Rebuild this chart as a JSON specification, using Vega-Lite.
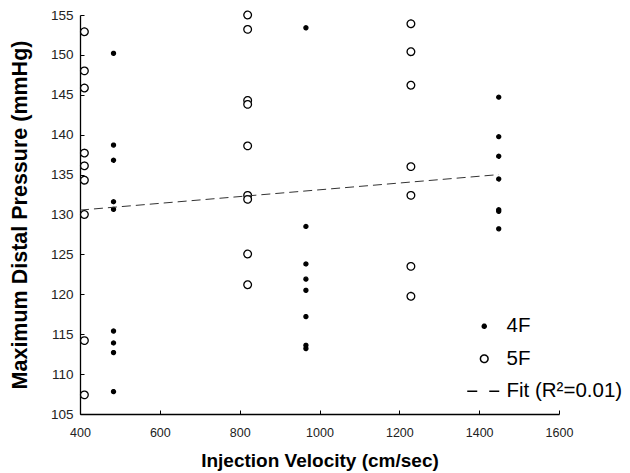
{
  "$schema": "https://vega.github.io/schema/vega-lite/v6.json",
  "width": 479,
  "height": 399,
  "autosize": {"type": "none"},
  "padding": {"left": 80, "top": 15, "right": 71, "bottom": 59},
  "background": "white",
  "config": {
    "view": {"stroke": null},
    "font": "Liberation Sans",
    "axis": {
      "grid": false,
      "domainColor": "black",
      "domainWidth": 1.3,
      "tickColor": "black",
      "tickWidth": 1,
      "tickSize": -4,
      "labelFlush": false,
      "labelOverlap": false,
      "labelBound": false,
      "labelColor": "#222222",
      "labelFont": "Liberation Sans",
      "titleFont": "Liberation Sans",
      "titleFontWeight": "bold",
      "titleColor": "black"
    },
    "legend": {
      "title": null,
      "orient": "none",
      "legendX": 394,
      "legendY": 301,
      "labelFontSize": 20.5,
      "labelColor": "black",
      "labelFont": "Liberation Sans",
      "labelOffset": 12,
      "rowPadding": 11.5,
      "padding": 0
    }
  },
  "layer": [
    {
      "data": {
        "values": [
          {"velocity": 411, "pressure": 152.9, "series": "5F"},
          {"velocity": 411, "pressure": 148.0, "series": "5F"},
          {"velocity": 411, "pressure": 145.85, "series": "5F"},
          {"velocity": 411, "pressure": 137.7, "series": "5F"},
          {"velocity": 411, "pressure": 136.1, "series": "5F"},
          {"velocity": 411, "pressure": 134.3, "series": "5F"},
          {"velocity": 411, "pressure": 130.0, "series": "5F"},
          {"velocity": 411, "pressure": 114.2, "series": "5F"},
          {"velocity": 411, "pressure": 107.4, "series": "5F"},
          {"velocity": 484, "pressure": 150.2, "series": "4F"},
          {"velocity": 484, "pressure": 138.7, "series": "4F"},
          {"velocity": 484, "pressure": 136.8, "series": "4F"},
          {"velocity": 484, "pressure": 131.6, "series": "4F"},
          {"velocity": 484, "pressure": 130.65, "series": "4F"},
          {"velocity": 484, "pressure": 115.4, "series": "4F"},
          {"velocity": 484, "pressure": 113.9, "series": "4F"},
          {"velocity": 484, "pressure": 112.7, "series": "4F"},
          {"velocity": 484, "pressure": 107.8, "series": "4F"},
          {"velocity": 820, "pressure": 155.0, "series": "5F"},
          {"velocity": 820, "pressure": 153.2, "series": "5F"},
          {"velocity": 820, "pressure": 144.3, "series": "5F"},
          {"velocity": 820, "pressure": 143.8, "series": "5F"},
          {"velocity": 820, "pressure": 138.6, "series": "5F"},
          {"velocity": 820, "pressure": 132.4, "series": "5F"},
          {"velocity": 820, "pressure": 131.9, "series": "5F"},
          {"velocity": 820, "pressure": 125.05, "series": "5F"},
          {"velocity": 820, "pressure": 121.2, "series": "5F"},
          {"velocity": 966, "pressure": 153.4, "series": "4F"},
          {"velocity": 966, "pressure": 128.5, "series": "4F"},
          {"velocity": 966, "pressure": 123.8, "series": "4F"},
          {"velocity": 966, "pressure": 121.9, "series": "4F"},
          {"velocity": 966, "pressure": 120.5, "series": "4F"},
          {"velocity": 966, "pressure": 117.2, "series": "4F"},
          {"velocity": 966, "pressure": 113.6, "series": "4F"},
          {"velocity": 966, "pressure": 113.2, "series": "4F"},
          {"velocity": 1229, "pressure": 153.9, "series": "5F"},
          {"velocity": 1229, "pressure": 150.4, "series": "5F"},
          {"velocity": 1229, "pressure": 146.2, "series": "5F"},
          {"velocity": 1229, "pressure": 136.0, "series": "5F"},
          {"velocity": 1229, "pressure": 132.4, "series": "5F"},
          {"velocity": 1229, "pressure": 123.5, "series": "5F"},
          {"velocity": 1229, "pressure": 119.75, "series": "5F"},
          {"velocity": 1449, "pressure": 144.7, "series": "4F"},
          {"velocity": 1449, "pressure": 139.75, "series": "4F"},
          {"velocity": 1449, "pressure": 137.3, "series": "4F"},
          {"velocity": 1449, "pressure": 134.45, "series": "4F"},
          {"velocity": 1449, "pressure": 130.6, "series": "4F"},
          {"velocity": 1449, "pressure": 130.4, "series": "4F"},
          {"velocity": 1449, "pressure": 128.2, "series": "4F"}
        ]
      },
      "mark": {"type": "point", "filled": true, "opacity": 1, "stroke": "black", "strokeWidth": 1.3},
      "encoding": {
        "x": {
          "field": "velocity", "type": "quantitative",
          "scale": {"domain": [400, 1600], "nice": false, "zero": false},
          "axis": {"values": [400, 600, 800, 1000, 1200, 1400, 1600], "format": "d", "title": "Injection Velocity (cm/sec)", "titleFontSize": 19, "labelFontSize": 12.5, "labelPadding": 16, "titlePadding": 13}
        },
        "y": {
          "field": "pressure", "type": "quantitative",
          "scale": {"domain": [105, 155], "nice": false, "zero": false},
          "axis": {"values": [105, 110, 115, 120, 125, 130, 135, 140, 145, 150, 155], "tickCount": 11, "format": "d", "labelOverlap": false, "title": "Maximum Distal Pressure (mmHg)", "titleFontSize": 21.5, "labelFontSize": 13.5, "labelPadding": 11, "labelAlign": "right", "titlePadding": 19}
        },
        "shape": {
          "field": "series", "type": "nominal",
          "scale": {"domain": ["4F", "5F", "Fit (R²=0.01)"], "range": ["circle", "circle", "M-3.4,0H3.4"]},
          "legend": {
            "encode": {"symbols": {"update": {"stroke": {"value": "black"}, "strokeWidth": {"value": 1.3}, "opacity": {"value": 1}}}}
          }
        },
        "fill": {
          "field": "series", "type": "nominal",
          "scale": {"domain": ["4F", "5F", "Fit (R²=0.01)"], "range": ["black", "white", "transparent"]},
          "legend": {
            "encode": {"symbols": {"update": {"stroke": {"value": "black"}, "strokeWidth": {"value": 1.3}, "opacity": {"value": 1}}}}
          }
        },
        "size": {
          "field": "series", "type": "nominal",
          "scale": {"domain": ["4F", "5F", "Fit (R²=0.01)"], "range": [16, 100, 100]},
          "legend": {
            "encode": {"symbols": {"update": {"stroke": {"value": "black"}, "strokeWidth": {"value": 1.3}, "opacity": {"value": 1}}}}
          }
        },
        "strokeDash": {
          "field": "series", "type": "nominal",
          "scale": {"domain": ["4F", "5F", "Fit (R²=0.01)"], "range": [[1, 0], [1, 0], [10, 12]]},
          "legend": {
            "encode": {"symbols": {"update": {"stroke": {"value": "black"}, "strokeWidth": {"value": 1.3}, "opacity": {"value": 1}}}}
          }
        }
      }
    },
    {
      "data": {
        "values": [
          {"velocity": 400, "fit": 130.55},
          {"velocity": 1449, "fit": 135.0}
        ]
      },
      "mark": {"type": "line", "color": "#333333", "strokeWidth": 1, "strokeDash": [9, 5]},
      "encoding": {
        "x": {"field": "velocity", "type": "quantitative"},
        "y": {"field": "fit", "type": "quantitative"}
      }
    }
  ]
}
